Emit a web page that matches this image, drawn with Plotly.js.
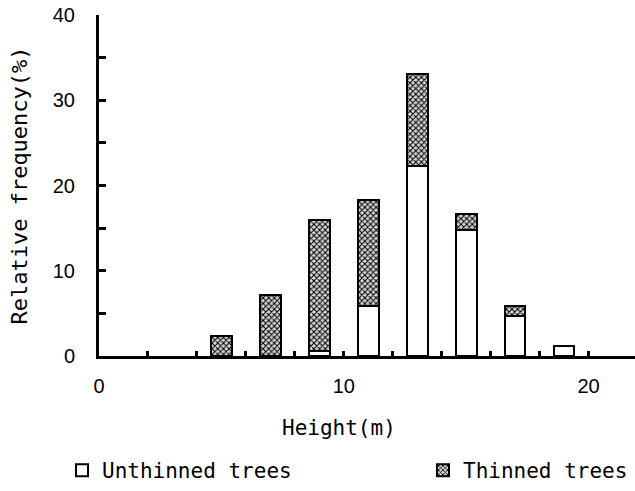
<!DOCTYPE html>
<html>
<head>
<meta charset="utf-8">
<script src="https://cdn.plot.ly/plotly-3.0.1.min.js"></script>
<style>html,body{margin:0;padding:0;background:#fff;}#chart{width:635px;height:491px;}</style>
</head>
<body>
<div id="chart"></div>
<script>
// Height class midpoints (m)
const heights = [5, 7, 9, 11, 13, 15, 17, 19];
// Relative frequency (%) of unthinned trees (bottom segment)
const unthinned = [0, 0, 0.6, 5.9, 22.3, 14.8, 4.7, 1.2];
// Relative frequency (%) of thinned trees (stacked on top)
const thinned = [2.4, 7.2, 15.3, 12.4, 10.8, 1.8, 1.2, 0];
const seriesNames = ["Unthinned trees", "Thinned trees"];
const xTickVals = [0, 10, 20];
const yTickVals = [0, 10, 20, 30, 40];

const monoFont = "DejaVu Sans Mono, monospace";
const numFont = "Liberation Sans, Arial, sans-serif";

const traces = [
  {
    type: "bar", x: heights, y: unthinned, name: seriesNames[0],
    width: 0.85, legend: "legend",
    marker: {color: "#ffffff", line: {color: "#000000", width: 2}},
    hoverinfo: "x+y"
  },
  {
    type: "bar", x: heights, y: thinned, name: seriesNames[1],
    width: 0.85, legend: "legend2",
    marker: {
      color: "#ffffff",
      line: {color: "#000000", width: 2},
      pattern: {shape: "x", fgcolor: "#000000", bgcolor: "#d8d8d8", size: 4, solidity: 0.45, fillmode: "replace"}
    },
    hoverinfo: "x+y"
  }
];

const layout = {
  width: 635, height: 491,
  margin: {l: 99, r: 0, t: 15, b: 134},
  paper_bgcolor: "#ffffff", plot_bgcolor: "#ffffff",
  barmode: "stack",
  showlegend: true,
  font: {family: monoFont, size: 21, color: "#000"},
  xaxis: {
    range: [0, 21.9],
    tickvals: xTickVals,
    ticktext: xTickVals.map(String),
    ticks: "inside", ticklen: 5, tickwidth: 3, tickcolor: "#000",
    minor: {dtick: 2, tick0: 0, ticks: "inside", ticklen: 5, tickwidth: 3, tickcolor: "#000"},
    showline: true, linecolor: "#000", linewidth: 3,
    showgrid: false, zeroline: false,
    tickfont: {family: numFont, size: 20, color: "#000"},
    ticklabelstandoff: 10,
    fixedrange: true
  },
  yaxis: {
    range: [0, 40],
    tickvals: yTickVals,
    ticks: "inside", ticklen: 7, tickwidth: 3, tickcolor: "#000",
    minor: {dtick: 5, tick0: 0, ticks: "inside", ticklen: 7, tickwidth: 3, tickcolor: "#000"},
    showline: true, linecolor: "#000", linewidth: 3,
    showgrid: false, zeroline: false,
    tickfont: {family: numFont, size: 20, color: "#000"},
    ticklabelstandoff: 17,
    title: {text: "Relative frequency(%)", font: {family: monoFont, size: 22, color: "#000"}, standoff: 20},
    fixedrange: true
  },
  annotations: [
    {text: "Height(m)", xref: "x", yref: "paper", x: 9.8, y: -0.21, xanchor: "center", yanchor: "middle",
     showarrow: false, font: {family: monoFont, size: 21, color: "#000"}}
  ],
  legend: {
    x: -0.069, y: -0.336, xanchor: "left", yanchor: "middle", orientation: "h",
    bgcolor: "rgba(0,0,0,0)", font: {family: monoFont, size: 21, color: "#000"}
  },
  legend2: {
    x: 0.6045, y: -0.336, xanchor: "left", yanchor: "middle", orientation: "h",
    bgcolor: "rgba(0,0,0,0)", font: {family: monoFont, size: 21, color: "#000"}
  }
};

Plotly.newPlot("chart", traces, layout, {displayModeBar: false, staticPlot: true});
</script>
</body>
</html>
